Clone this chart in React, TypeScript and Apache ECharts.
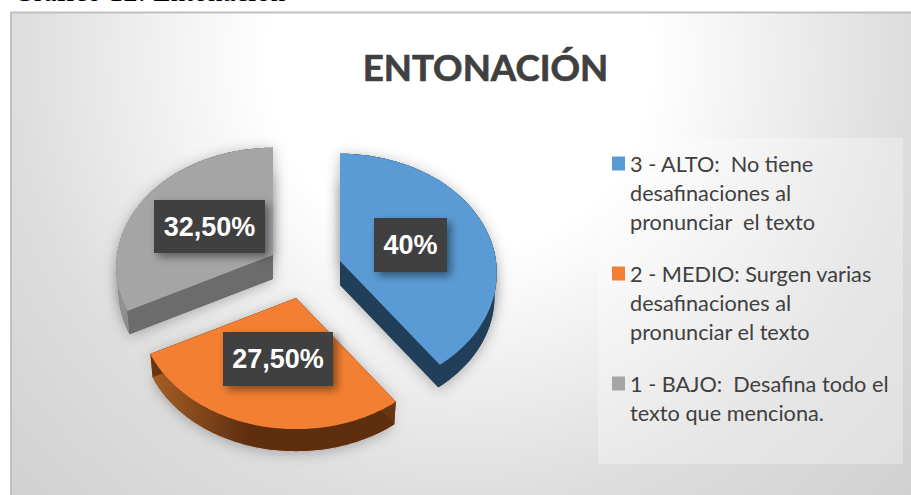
import React, { useEffect, useRef } from "react";
import * as echarts from "echarts";

const names = [
  "3 - ALTO:  No tiene\ndesafinaciones al\npronunciar  el texto",
  "2 - MEDIO: Surgen varias\ndesafinaciones al\npronunciar el texto",
  "1 - BAJO:  Desafina todo el\ntexto que menciona.",
];
const shares = [40, 27.5, 32.5];
const valueLabels = ["40%", "27,50%", "32,50%"];
const titleText = "ENTONACIÓN";
const captionText = "Gráfico 12: Entonación";

const topColors = ["#5B9BD5", "#F38032", "#A5A5A5"];
const cutWallColors = ["#223F59", "#6B3512", "#6C6C6C"];
const outerWallColors = [
  ["#223F59", "#223F59"],
  ["#A85F26", "#5E2E0F"],
  ["#949494", "#6C6C6C"],
];
const apexes = [[340, 261], [296, 298], [273, 255]];
const labelCentres = [[410.5, 245], [278, 359], [209.5, 226.5]];
const labelSizes = [[73, 54], [110, 54], [111, 53]];

const RX = 156;
const RY = 118;
const PERSP = 0.1;
const DEPTH = 24;

function project(apex: number[], deg: number, dy: number, scale: number) {
  const t = (deg * Math.PI) / 180;
  const u = Math.sin(t);
  const v = -Math.cos(t);
  const w = 1 - PERSP * v;
  return [apex[0] + (scale * RX * u) / w, apex[1] + dy + (scale * RY * v) / w];
}

function arc(apex: number[], from: number, to: number, dy: number, scale: number) {
  const pts: number[][] = [];
  const n = Math.ceil(to - from);
  for (let i = 0; i <= n; i++) pts.push(project(apex, from + ((to - from) * i) / n, dy, scale));
  return pts;
}

function renderSlice(index: number) {
  return (_params: any, api: any) => {
    const value = api.value(0);
    let before = 0;
    for (let i = 0; i < index; i++) before += shares[i];
    const from = (before / 100) * 360;
    const to = from + (value / 100) * 360;
    const apex = apexes[index];
    const top = arc(apex, from, to, 0, 1);
    const bot = arc(apex, from, to, DEPTH, 0.985);
    const bottomApex = [apex[0], apex[1] + DEPTH];
    const shadow = { shadowBlur: 14, shadowColor: "rgba(0,0,0,0.28)", shadowOffsetY: 2 };
    const wallFill = new echarts.graphic.LinearGradient(0, 0, 1, 0, [
      { offset: 0, color: outerWallColors[index][0] },
      { offset: 0.4, color: outerWallColors[index][1] },
      { offset: 1, color: outerWallColors[index][1] },
    ]);
    const lc = labelCentres[index];
    const ls = labelSizes[index];
    return {
      type: "group",
      children: [
        { type: "polygon", shape: { points: [bottomApex, ...bot] }, style: { fill: cutWallColors[index], ...shadow } },
        { type: "polygon", shape: { points: [apex, ...top] }, style: { fill: cutWallColors[index], ...shadow } },
        { type: "polygon", shape: { points: [...top, ...bot.slice().reverse()] }, style: { fill: wallFill } },
        { type: "polygon", shape: { points: [apex, top[0], bot[0], bottomApex] }, style: { fill: cutWallColors[index] } },
        { type: "polygon", shape: { points: [apex, top[top.length - 1], bot[bot.length - 1], bottomApex] }, style: { fill: cutWallColors[index] } },
        { type: "polygon", shape: { points: [apex, ...top] }, style: { fill: topColors[index] } },
        {
          type: "rect",
          z2: 50,
          shape: { x: lc[0] - ls[0] / 2, y: lc[1] - ls[1] / 2, width: ls[0], height: ls[1] },
          style: { fill: "#404040", shadowBlur: 8, shadowColor: "rgba(0,0,0,0.45)", shadowOffsetX: 4, shadowOffsetY: 4 },
        },
        {
          type: "text",
          z2: 51,
          style: {
            x: lc[0],
            y: lc[1],
            text: valueLabels[index],
            fill: "#FFFFFF",
            font: 'bold 27px "Liberation Sans"',
            align: "center",
            verticalAlign: "middle",
          },
        },
      ],
    };
  };
}

export default function App() {
  const ref = useRef<HTMLDivElement>(null);
  useEffect(() => {
    const chart = echarts.init(ref.current!, null, { renderer: "svg" });
    const order = [2, 0, 1];
    chart.setOption({
      animation: false,
      title: {
        text: titleText,
        left: 480.5,
        top: 43,
        textAlign: "center",
        textStyle: {
          fontFamily: "Lato",
          fontWeight: "bold",
          fontSize: 36.6,
          color: "#404040",
          textBorderColor: "#404040",
          textBorderWidth: 0.7,
        },
      },
      legend: {
        orient: "vertical",
        left: 612,
        top: 91,
        padding: 0,
        itemGap: -35,
        itemWidth: 13,
        itemHeight: 14,
        icon: "rect",
        selectedMode: false,
        align: "left",
        formatter: (name: string) => "\n\n" + name + (name.split("\n").length === 2 ? "\n" : ""),
        textStyle: { fontFamily: "Lato", fontSize: 21.7, color: "#404040", lineHeight: 29 },
        data: names,
      },
      graphic: [
        {
          type: "text",
          silent: true,
          style: { x: 13, y: 5.5, text: captionText, font: '29px "Liberation Serif"', fill: "#000000", verticalAlign: "bottom" },
        },
        {
          type: "rect",
          silent: true,
          shape: { x: 11, y: 12.5, width: 902, height: 485 },
          style: {
            fill: new echarts.graphic.RadialGradient(460, 60, 640, [
              { offset: 0, color: "#FFFFFF" },
              { offset: 0.3, color: "#FFFFFF" },
              { offset: 0.7, color: "#DDDDDD" },
              { offset: 1, color: "#D0D0D0" },
            ], true),
            stroke: "#BFBFBF",
            lineWidth: 2,
          },
        },
        {
          type: "rect",
          silent: true,
          shape: { x: 598, y: 138, width: 305, height: 326 },
          style: { fill: "rgba(255,255,255,0.3)" },
        },
      ],
      series: order.map((i) => ({
        type: "custom",
        name: names[i],
        coordinateSystem: "none",
        itemStyle: { color: topColors[i] },
        data: [[shares[i]]],
        renderItem: renderSlice(i),
      })),
    });
    return () => chart.dispose();
  }, []);
  return (
    <div style={{ position: "absolute", left: 0, top: 0, width: 911, height: 495, overflow: "hidden", background: "#fff" }}>
      <div ref={ref} style={{ width: 911, height: 495 }} />
    </div>
  );
}
